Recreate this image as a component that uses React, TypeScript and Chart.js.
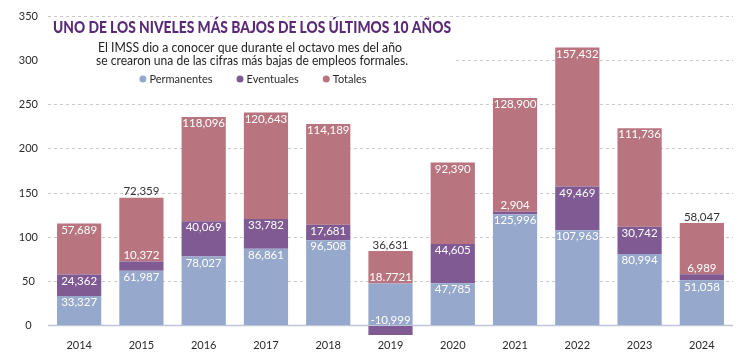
import React, { useEffect, useRef } from "react";
import { Chart, registerables } from "chart.js";

Chart.register(...registerables);

const FONT = 'Lato, "Open Sans", "DejaVu Sans", sans-serif';

const years = ["2014", "2015", "2016", "2017", "2018", "2019", "2020", "2021", "2022", "2023", "2024"];
const permanentes = [33.327, 61.987, 78.027, 86.861, 96.508, 47.63, 47.785, 125.996, 107.963, 80.994, 51.058];
const eventuales = [24.362, 10.372, 40.069, 33.782, 17.681, -10.999, 44.605, 2.904, 49.469, 30.742, 6.989];
const totales = [57.689, 72.359, 118.096, 120.643, 114.189, 36.631, 92.39, 128.9, 157.432, 111.736, 58.047];

const permLabels = ["33,327", "61,987", "78,027", "86,861", "96,508", "18.7721", "47,785", "125,996", "107,963", "80,994", "51,058"];
const eventLabels = ["24,362", "10,372", "40,069", "33,782", "17,681", "-10,999", "44,605", "2,904", "49,469", "30,742", "6,989"];
const totalLabels = ["57,689", "72,359", "118,096", "120,643", "114,189", "36,631", "92,390", "128,900", "157,432", "111,736", "58,047"];

const yTickValues = [0, 50, 100, 150, 200, 250, 300, 350];

const seriesNames = ["Permanentes", "Eventuales", "Totales"];
const seriesColors = ["#96a8cb", "#7f5a93", "#b8757f"];

const TITLE = "UNO DE LOS NIVELES MÁS BAJOS DE LOS ÚLTIMOS 10 AÑOS";
const SUBTITLE = [
  "El IMSS dio a conocer que durante el octavo mes del año",
  "se crearon una de las cifras más bajas de empleos formales.",
];

const overlayPlugin = {
  id: "overlay",
  beforeDatasetsDraw(chart: any) {
    const ctx = chart.ctx as CanvasRenderingContext2D;
    const area = chart.chartArea;
    const y0 = chart.scales.y.getPixelForValue(0);
    ctx.save();
    ctx.strokeStyle = "#bcc6d6";
    ctx.lineWidth = 1.5;
    ctx.beginPath();
    ctx.moveTo(area.left, y0);
    ctx.lineTo(area.right, y0);
    ctx.stroke();

    ctx.fillStyle = "#ffffff";
    ctx.fillRect(area.left, 19, 408, 71);

    const cx = 252;
    ctx.textAlign = "center";
    ctx.textBaseline = "middle";
    ctx.fillStyle = "#5a2a77";
    ctx.font = `900 16px ${FONT}`;
    ctx.fillText(TITLE, cx, 28, 398);

    ctx.fillStyle = "#1e1e1e";
    ctx.font = `13.5px ${FONT}`;
    ctx.fillText(SUBTITLE[0], cx - 2, 48, 304);
    ctx.fillText(SUBTITLE[1], cx, 61, 312);

    ctx.font = `11px ${FONT}`;
    ctx.textAlign = "left";
    const r = 3.5;
    const dotGap = 5;
    const itemGap = 22;
    const widths = seriesNames.map((n) => ctx.measureText(n).width);
    const total = widths.reduce((a, w) => a + r * 2 + dotGap + w, 0) + itemGap * (seriesNames.length - 1);
    let x = cx - total / 2 + 2;
    const ly = 79;
    seriesNames.forEach((n, i) => {
      ctx.fillStyle = seriesColors[i];
      ctx.beginPath();
      ctx.arc(x + r, ly, r, 0, Math.PI * 2);
      ctx.fill();
      ctx.fillStyle = "#2a2a2a";
      ctx.fillText(n, x + r * 2 + dotGap - 2, ly + 0.5);
      x += r * 2 + dotGap + widths[i] + itemGap;
    });
    ctx.restore();
  },
  afterDatasetsDraw(chart: any) {
    const ctx = chart.ctx as CanvasRenderingContext2D;
    const metas = [0, 1, 2].map((i) => chart.getDatasetMeta(i));
    const labelSets = [permLabels, eventLabels, totalLabels];
    ctx.save();
    ctx.font = `11.5px ${FONT}`;
    ctx.textAlign = "center";
    ctx.textBaseline = "middle";
    years.forEach((_, i) => {
      const segs = metas.map((m: any, d: number) => {
        const el = m.data[i];
        const top = Math.min(el.y, el.base);
        const bottom = Math.max(el.y, el.base);
        return { x: el.x, top, bottom, h: bottom - top, text: labelSets[d][i] };
      });
      segs.sort((a, b) => b.bottom - a.bottom);
      let pushed = false;
      segs.forEach((s, k) => {
        const isLast = k === segs.length - 1;
        const shift = s.h < 14 || (pushed && s.h < 80);
        let y: number;
        let color = "#ffffff";
        if (shift) {
          y = s.top - 6;
          if (isLast) color = "#333333";
        } else {
          y = s.top + 6.5;
        }
        pushed = shift;
        ctx.fillStyle = color;
        ctx.fillText(s.text, s.x, y);
      });
    });
    ctx.restore();
  },
};

export default function App() {
  const ref = useRef<HTMLCanvasElement | null>(null);
  useEffect(() => {
    if (!ref.current) return;
    const chart = new Chart(ref.current, {
      type: "bar",
      data: {
        labels: years,
        datasets: [
          { label: seriesNames[0], data: permanentes, backgroundColor: seriesColors[0] },
          { label: seriesNames[1], data: eventuales, backgroundColor: seriesColors[1] },
          { label: seriesNames[2], data: totales, backgroundColor: seriesColors[2] },
        ],
      },
      options: {
        responsive: false,
        animation: false,
        devicePixelRatio: 1,
        datasets: { bar: { categoryPercentage: 1, barPercentage: 0.71, borderWidth: 0 } },
        layout: { padding: { top: 16, right: 17, bottom: 3, left: 0 } },
        plugins: { legend: { display: false }, tooltip: { enabled: false } },
        scales: {
          x: {
            stacked: true,
            grid: { display: false, drawTicks: false },
            border: { display: false },
            afterFit: (s: any) => {
              s.height = 17;
            },
            ticks: { color: "#2a2a2a", font: { family: FONT, size: 11 }, padding: 3, maxRotation: 0 },
          },
          y: {
            stacked: true,
            min: -12,
            max: 350,
            afterBuildTicks: (s: any) => {
              s.ticks = yTickValues.map((v) => ({ value: v }));
            },
            afterFit: (s: any) => {
              s.width = 48;
            },
            grid: {
              color: (c: any) => (c.tick && c.tick.value === 0 ? "rgba(0,0,0,0)" : "#c9c9c9"),
              drawTicks: false,
              lineWidth: 1,
            },
            border: { display: false, dash: [3, 3] },
            ticks: { crossAlign: "center", padding: 10, color: "#2a2a2a", font: { family: FONT, size: 11 } },
          },
        },
      },
      plugins: [overlayPlugin],
    } as any);
    return () => chart.destroy();
  }, []);
  return (
    <div style={{ position: "fixed", left: 0, top: 0, width: 750, height: 356, background: "#fff" }}>
      <canvas ref={ref} width={750} height={356} style={{ display: "block" }} />
    </div>
  );
}
